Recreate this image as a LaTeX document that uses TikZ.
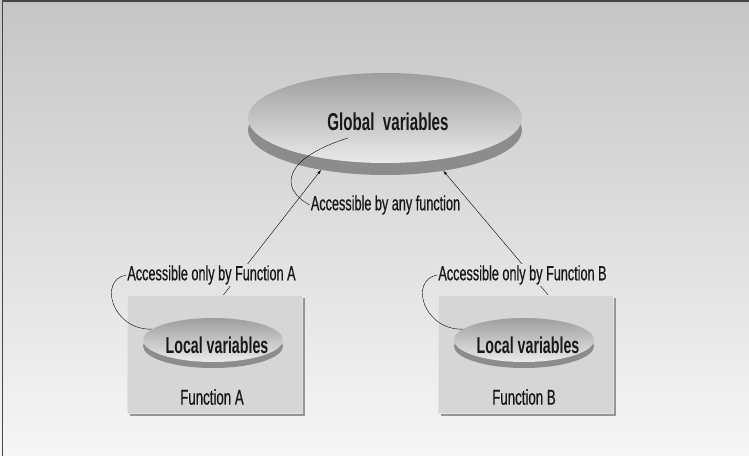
\documentclass[tikz,border=0pt]{standalone}
\usepackage{fontspec}
\newfontfamily\condfont[FakeStretch=0.62,FakeBold=0.5]{Liberation Sans}
\newfontfamily\condbold[FakeStretch=0.62]{Liberation Sans Bold}
\usetikzlibrary{shapes.geometric}
\definecolor{bgtop}{RGB}{198,198,198}
\definecolor{bgbot}{RGB}{246,246,246}
\definecolor{framegray}{RGB}{70,70,70}
\definecolor{lblfill}{RGB}{227,227,227}
\definecolor{diskdark}{RGB}{158,158,158}
\definecolor{disklight}{RGB}{234,234,234}
\definecolor{diskedge}{RGB}{140,140,140}
\definecolor{boxfill}{RGB}{214,214,214}
\definecolor{boxedge}{RGB}{226,226,226}
\definecolor{boxshade}{RGB}{150,150,150}
\definecolor{inkgray}{RGB}{24,24,24}
\begin{document}
\begin{tikzpicture}[>=latex,line join=bevel,
  diskside/.style={ellipse,draw=none,fill=diskedge,inner sep=0pt},
  disktop/.style={ellipse,draw=none,inner sep=0pt,top color=diskdark,bottom color=disklight},
  funcbox/.style={rectangle,draw=boxedge,fill=boxfill,inner sep=0pt,minimum width=175bp,minimum height=118bp},
  boxshadow/.style={rectangle,draw=none,fill=boxshade,inner sep=0pt,minimum width=175bp,minimum height=118bp},
  boldtext/.style={inner sep=1bp,text=inkgray,font=\condbold\fontsize{23}{27}\selectfont},
  plaintext/.style={inner sep=1bp,text=inkgray,font=\condfont\fontsize{20.5}{24}\selectfont},
  labeltext/.style={plaintext,fill=lblfill}]
%%
\useasboundingbox (0bp,0bp) rectangle (749bp,456bp);
\shade [top color=bgtop,bottom color=bgbot] (0bp,0bp) rectangle (749bp,456bp);
\draw [framegray,line width=1.5bp] (2.5bp,0bp) -- (2.5bp,455bp) -- (749bp,455bp);
%
\node (global_side) at (385bp,326bp) [diskside,minimum width=274bp,minimum height=90bp] {};
\node (global_disk) at (385bp,338bp) [disktop,minimum width=274bp,minimum height=90bp] {};
\node (global_text) at (388bp,334bp) [boldtext,font=\condbold\fontsize{24.5}{29}\selectfont] {Global~ variables};
%
\node (shadow_a) at (217.5bp,99bp) [boxshadow] {};
\node (func_a) at (214.5bp,102bp) [funcbox] {};
\node (shadow_b) at (528.5bp,99bp) [boxshadow] {};
\node (func_b) at (525.5bp,102bp) [funcbox] {};
\node (func_a_text) at (212bp,59bp) [plaintext,font=\condfont\fontsize{21.5}{25}\selectfont] {Function A};
\node (func_b_text) at (524bp,59bp) [plaintext,font=\condfont\fontsize{21.5}{25}\selectfont] {Function B};
%
\node (local_a_side) at (213bp,110bp) [diskside,minimum width=140bp,minimum height=44bp] {};
\node (local_a) at (213bp,116bp) [disktop,minimum width=140bp,minimum height=44bp] {};
\node (local_a_text) at (217bp,111bp) [boldtext] {Local variables};
\node (local_b_side) at (524bp,110bp) [diskside,minimum width=140bp,minimum height=44bp] {};
\node (local_b) at (524bp,116bp) [disktop,minimum width=140bp,minimum height=44bp] {};
\node (local_b_text) at (528bp,111bp) [boldtext] {Local variables};
%
\draw [black,->] ([xshift=9bp]func_a.north) -- (global_side.212);
\draw [black,->] ([xshift=22.5bp]func_b.north) -- (global_side.325);
%
\node (only_a) at (211.5bp,181bp) [labeltext] {Accessible only by Function A};
\node (only_b) at (522.5bp,181bp) [labeltext] {Accessible only by Function B};
\node (any_fn) at (385.5bp,251bp) [plaintext] {Accessible by any function};
\coordinate (any_end) at (348bp,318bp);
%
\draw [black] (any_fn.west) .. controls (278bp,268bp) and (284bp,298bp) .. (any_end);
\draw [black] (only_a.west) .. controls (98bp,176bp) and (112bp,126bp) .. (local_a.170);
\draw [black] (only_b.west) .. controls (409bp,176bp) and (423bp,126bp) .. (local_b.170);
%
\end{tikzpicture}
\end{document}
